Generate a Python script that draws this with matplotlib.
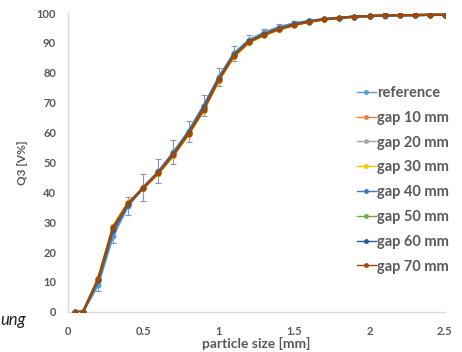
import matplotlib
matplotlib.use("Agg")
import matplotlib.pyplot as plt

# particle size classes [mm]
sizes = [0.05, 0.1, 0.2, 0.3, 0.4, 0.5, 0.6, 0.7, 0.8, 0.9, 1.0, 1.1, 1.2,
         1.3, 1.4, 1.5, 1.6, 1.7, 1.8, 1.9, 2.0, 2.1, 2.2, 2.3, 2.4, 2.5]

reference = [0, 0, 9.0, 25.5, 35.5, 41.5, 47.0, 53.5, 60.5, 69.0, 78.5, 86.5, 91.0,
             93.5, 95.3, 96.6, 97.4, 98.0, 98.4, 98.7, 99.0, 99.1, 99.2, 99.3, 99.3, 99.4]
reference_err = [0, 0, 2.0, 2.5, 3.0, 4.5, 4.0, 4.0, 3.5, 3.5, 3.0, 2.5, 1.5,
                 1.2, 1.0, 0.8, 0.6, 0.5, 0.4, 0.4, 0.3, 0.3, 0.3, 0.3, 0.3, 0.3]
gap_10 = [0, 0, 11.0, 28.5, 36.5, 41.5, 46.5, 52.5, 59.5, 67.5, 77.5, 85.5, 90.2,
          92.6, 94.5, 96.0, 97.1, 97.9, 98.4, 98.8, 99.0, 99.2, 99.3, 99.3, 99.4, 99.4]
gap_20 = [0, 0, 10.5, 27.5, 36.0, 41.8, 47.0, 53.0, 60.0, 68.5, 78.0, 86.0, 90.8,
          93.2, 95.0, 96.4, 97.3, 98.0, 98.5, 98.8, 99.0, 99.2, 99.3, 99.3, 99.4, 99.4]
gap_30 = [0, 0, 11.2, 28.8, 36.8, 41.2, 46.2, 52.2, 59.2, 67.2, 77.2, 85.2, 90.0,
          92.5, 94.4, 95.9, 97.0, 97.8, 98.3, 98.7, 99.0, 99.1, 99.2, 99.3, 99.4, 99.4]
gap_40 = [0, 0, 10.2, 27.0, 35.8, 41.6, 46.8, 53.2, 60.2, 68.8, 78.2, 86.2, 90.6,
          93.0, 94.9, 96.3, 97.2, 97.9, 98.4, 98.8, 99.0, 99.1, 99.2, 99.3, 99.4, 99.4]
gap_50 = [0, 0, 10.8, 28.0, 36.2, 41.4, 46.6, 52.8, 59.8, 68.0, 77.8, 85.8, 90.4,
          92.8, 94.7, 96.1, 97.1, 97.9, 98.4, 98.8, 99.0, 99.2, 99.3, 99.3, 99.4, 99.4]
gap_60 = [0, 0, 10.6, 27.8, 36.1, 41.5, 46.7, 52.9, 59.9, 68.2, 77.9, 85.9, 90.5,
          92.9, 94.8, 96.2, 97.2, 97.9, 98.4, 98.8, 99.0, 99.2, 99.3, 99.3, 99.4, 99.4]
gap_70 = [0, 0, 11.0, 28.4, 36.4, 41.5, 46.5, 52.5, 59.6, 67.6, 77.6, 85.6, 90.3,
          92.7, 94.6, 96.0, 97.1, 97.9, 98.4, 98.8, 99.0, 99.2, 99.3, 99.3, 99.4, 99.4]

labels = ["reference", "gap 10 mm", "gap 20 mm", "gap 30 mm",
          "gap 40 mm", "gap 50 mm", "gap 60 mm", "gap 70 mm"]
series = [reference, gap_10, gap_20, gap_30, gap_40, gap_50, gap_60, gap_70]
colors = ["#5B9BD5", "#ED7D31", "#A5A5A5", "#FFC000",
          "#4472C4", "#70AD47", "#255E91", "#9E480E"]

TEXT = "#595959"
plt.rcParams["font.family"] = ["Lato", "DejaVu Sans"]

fig = plt.figure(figsize=(4.62, 3.52), dpi=100)
ax = fig.add_axes([0.147, 0.114, 0.816, 0.849])

for values, label, color in zip(series, labels, colors):
    ax.plot(sizes, values, color=color, linewidth=1.6, marker="o",
            markersize=3.2, label=label, zorder=3)

ax.errorbar(sizes, reference, yerr=reference_err, fmt="none",
            ecolor="#8497B0", elinewidth=0.8, capsize=2, capthick=0.8, zorder=2)

ax.set_xlim(0, 2.5)
ax.set_ylim(0, 100)
ax.set_xticks([0, 0.5, 1, 1.5, 2, 2.5])
ax.set_xticklabels(["0", "0.5", "1", "1.5", "2", "2.5"])
ax.set_yticks(range(0, 101, 10))
ax.tick_params(length=0, colors=TEXT, labelsize=8)
ax.tick_params(axis="x", pad=10)
ax.tick_params(axis="y", pad=8.5)
for lbl in ax.get_xticklabels() + ax.get_yticklabels():
    lbl.set_fontweight("bold")

for side in ["top", "right"]:
    ax.spines[side].set_visible(False)
for side in ["left", "bottom"]:
    ax.spines[side].set_color("#D9D9D9")
    ax.spines[side].set_linewidth(1.0)

ax.set_xlabel("particle size [mm]", fontsize=10, fontweight="bold",
              color=TEXT, labelpad=0)
ax.set_ylabel("Q3 [V%]", fontsize=8.5, fontweight="bold", color=TEXT, labelpad=6)

leg = ax.legend(loc="upper left", bbox_to_anchor=(357 / 462, 1 - 86 / 352),
                bbox_transform=fig.transFigure, frameon=False,
                handlelength=1.3, handletextpad=0.1, labelspacing=0.74,
                borderaxespad=0, borderpad=0,
                prop={"size": 10.5, "weight": "bold"})
for text in leg.get_texts():
    text.set_color(TEXT)
for handle in leg.get_lines():
    handle.set_linewidth(1.0)
    handle.set_markersize(2.5)

# cut-off caption on the left edge of the source image
fig.text(0.0, 1 - 320 / 352, "ung", fontsize=12, style="italic",
         color="#222222", va="center", ha="left")

fig.savefig("out.png", dpi=100)
